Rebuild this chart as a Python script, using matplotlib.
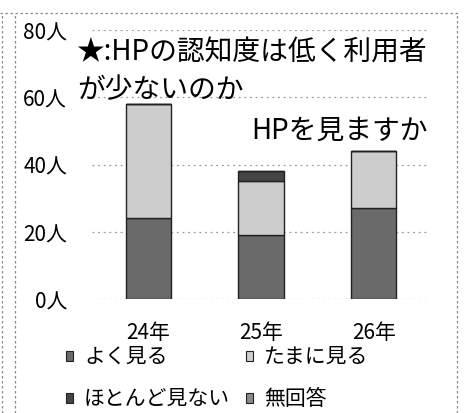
import matplotlib
matplotlib.use("Agg")
import matplotlib.pyplot as plt
from matplotlib.patches import Rectangle
from matplotlib.lines import Line2D
import numpy as np

plt.rcParams['font.family'] = ['Noto Sans CJK JP', 'DejaVu Sans']

categories = ["24年", "25年", "26年"]
series_names = ["よく見る", "たまに見る", "ほとんど見ない", "無回答"]
yoku = [24, 19, 27]
tamani = [34, 16, 17]
hotondo = [0, 3, 0]
mukaitou = [0, 0, 0]
yticks = [0, 20, 40, 60, 80]
ytick_labels = ["0人", "20人", "40人", "60人", "80人"]
title_text = "★:HPの認知度は低く利用者\nが少ないのか"
subtitle_text = "HPを見ますか"

colors = ["#6a6a6a", "#cdcdcd", "#444444", "#8a8a8a"]

W, H = 465, 414
fig = plt.figure(figsize=(W / 100, H / 100), dpi=100)
fig.patch.set_facecolor("white")

ax = fig.add_axes([92 / W, 1 - 300 / H, (430 - 92) / W, (300 - 31) / H])
ax.set_xlim(-0.5, 2.5)
ax.set_ylim(0, 80)
for s in ax.spines.values():
    s.set_visible(False)
ax.set_yticks(yticks)
ax.set_yticklabels(ytick_labels, fontsize=15)
ax.tick_params(axis='y', length=0, pad=18)
ax.set_xticks(range(len(categories)))
ax.set_xticklabels(categories, fontsize=15)
ax.tick_params(axis='x', length=0, pad=16)
for yv in yticks:
    ax.axhline(yv, color="#9a9a9a", lw=0.9, ls=(0, (1.5, 3)), zorder=0)

x = np.arange(len(categories))
data = [yoku, tamani, hotondo, mukaitou]
bottom = np.zeros(len(categories))
for vals, c in zip(data, colors):
    v = np.array(vals, dtype=float)
    ax.bar(x, v, width=0.4, bottom=bottom, color=c, edgecolor="#222222",
           linewidth=1.0, zorder=2)
    bottom += v

# title texts
fig.text(77 / W, 1 - 38 / H, title_text, fontsize=20, va="top", ha="left",
         linespacing=1.3, color="black")
fig.text(428 / W, 1 - 131 / H, subtitle_text, fontsize=20, va="center",
         ha="right", color="black")

# legend (manual 2-column layout)
legend_pos = [(66, 357), (246, 357), (66, 399), (246, 399)]
for (lx, ly), name, c in zip(legend_pos, series_names, colors):
    fig.patches.append(Rectangle((lx / W, 1 - (ly + 5) / H), 7 / W, 10 / H,
                                 transform=fig.transFigure, facecolor=c,
                                 edgecolor="#222222", lw=0.8))
    fig.text((lx + 18) / W, 1 - ly / H, name, fontsize=15, va="center",
             ha="left", color="black")

# outer frame (dotted)
frame_kw = dict(transform=fig.transFigure, color="#888888", lw=0.9,
                ls=(0, (2, 2)))
fig.lines.append(Line2D([2 / W, 2 / W], [0, 1 - 14 / H], **frame_kw))
fig.lines.append(Line2D([15 / W, 15 / W], [0, 1 - 14 / H], **frame_kw))
fig.lines.append(Line2D([457 / W, 457 / W], [0, 1 - 14 / H], **frame_kw))
fig.lines.append(Line2D([0, 460 / W], [1 - 14 / H, 1 - 14 / H], **frame_kw))

fig.savefig("out.png", dpi=100, facecolor="white")
